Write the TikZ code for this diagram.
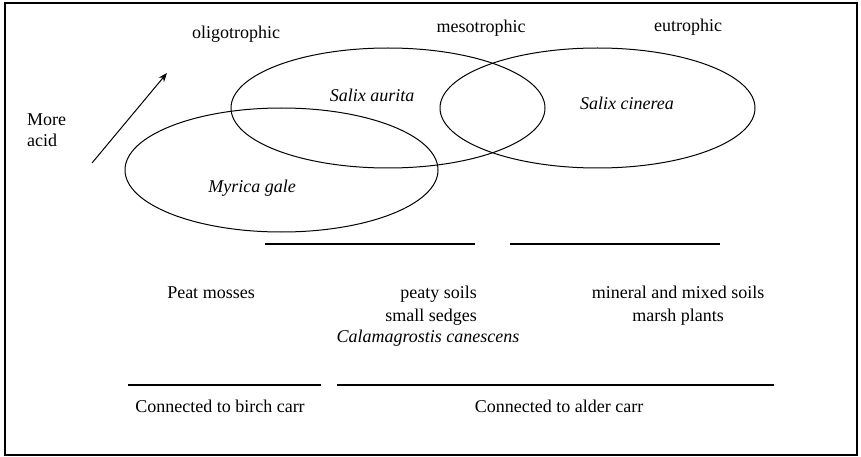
\documentclass[tikz,border=0pt]{standalone}
\usepackage{fontspec}
\setmainfont{Liberation Serif}
\usetikzlibrary{arrows.meta}
\begin{document}
\begin{tikzpicture}[x=1pt,y=-1pt,
  lbl/.style={font=\fontsize{18}{22}\selectfont, inner sep=0pt, anchor=base},
  sp/.style={lbl, font=\fontsize{18}{22}\selectfont\itshape},
  ell/.style={draw, line width=1pt},
  rulel/.style={line width=1.6pt}]
\useasboundingbox (0,0) rectangle (861,457);
\draw[line width=1.5pt] (5,3) rectangle (857,455);
% ellipses
\draw[ell] (388,108) ellipse [x radius=157, y radius=60];
\draw[ell] (281.5,170) ellipse [x radius=156.5, y radius=62];
\draw[ell] (597.5,108) ellipse [x radius=157.5, y radius=60];
% top labels
\node[lbl] (oligo) at (236,39) {oligotrophic};
\node[lbl] (meso) at (481,33) {mesotrophic};
\node[lbl] (eutro) at (688,32) {eutrophic};
\node[lbl, anchor=base west] (more) at (27,126) {More};
\node[lbl, anchor=base west] (acid) at (27,147) {acid};
\coordinate (a1) at (92,163);
\coordinate (a2) at (167,73);
\draw[line width=1pt, -{Stealth[length=9pt,width=7pt]}] (a1) -- (a2);
% species
\node[sp] (saur) at (372,102) {Salix aurita};
\node[sp] (myr) at (252,193) {Myrica gale};
\node[sp] (scin) at (627,110) {Salix cinerea};
% rules
\coordinate (r1a) at (265,244); \coordinate (r1b) at (475,244);
\coordinate (r2a) at (510,244); \coordinate (r2b) at (720,244);
\coordinate (r3a) at (128,385); \coordinate (r3b) at (321,385);
\coordinate (r4a) at (337,385); \coordinate (r4b) at (774,385);
\draw[rulel] (r1a) -- (r1b);
\draw[rulel] (r2a) -- (r2b);
\draw[rulel] (r3a) -- (r3b);
\draw[rulel] (r4a) -- (r4b);
% middle texts
\node[lbl] (peat) at (211,298) {Peat mosses};
\node[lbl, anchor=base east] (peaty) at (477,298) {peaty soils};
\node[lbl, anchor=base east] (sedge) at (477,321) {small sedges};
\node[sp] (cal) at (428,342) {Calamagrostis canescens};
\node[lbl] (mineral) at (678,298) {mineral and mixed soils};
\node[lbl] (marsh) at (678,321) {marsh plants};
% bottom texts
\node[lbl] (birch) at (220,412) {Connected to birch carr};
\node[lbl] (alder) at (559,412) {Connected to alder carr};
\end{tikzpicture}
\end{document}
